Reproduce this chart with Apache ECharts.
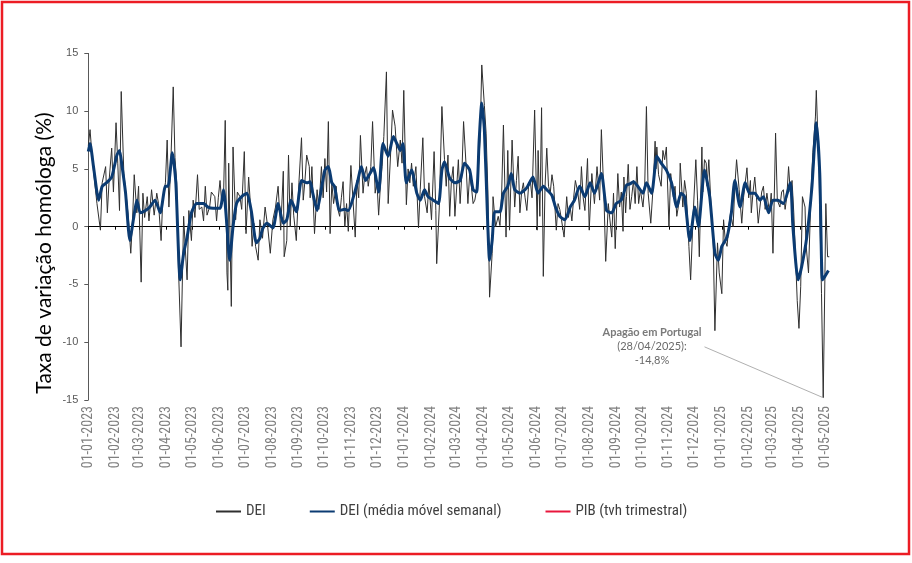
<!DOCTYPE html>
<html>
<head>
<meta charset="utf-8">
<script src="https://cdn.jsdelivr.net/npm/echarts@6/dist/echarts.min.js"></script>
<style>
html,body{margin:0;padding:0;background:#fff;}
#chart{width:912px;height:563px;}
</style>
</head>
<body>
<div id="chart"></div>
<script>
// ---- axis range (daily categories) ----
const firstDay = '2023-01-01';
const lastDay = '2025-05-05';
const yTicks = { min: -15, max: 15, step: 5 };

// ---- series names ----
const seriesNames = ['DEI', 'DEI (média móvel semanal)', 'PIB (tvh trimestral)'];

// ---- DEI (daily) ----
const dei = [
['2023-01-01',7.0],['2023-01-03',8.4],['2023-01-06',5.5],['2023-01-11',2.0],['2023-01-15',-0.3],['2023-01-17',3.8],['2023-01-21',5.2],['2023-01-23',1.2],['2023-01-25',4.0],['2023-01-28',6.8],['2023-01-30',3.0],
['2023-02-02',9.0],['2023-02-04',5.5],['2023-02-06',1.4],['2023-02-08',11.7],['2023-02-11',4.6],['2023-02-14',2.5],['2023-02-16',1.0],['2023-02-19',-2.3],['2023-02-21',0.5],['2023-02-23',4.5],['2023-02-26',1.2],['2023-02-28',3.5],
['2023-03-03',-4.8],['2023-03-05',2.9],['2023-03-07',0.8],['2023-03-10',2.6],['2023-03-12',0.5],['2023-03-15',3.2],['2023-03-18',1.0],['2023-03-21',2.9],['2023-03-23',2.0],['2023-03-26',-1.2],['2023-03-28',2.5],['2023-03-31',3.8],
['2023-04-02',7.5],['2023-04-04',1.7],['2023-04-06',5.0],['2023-04-09',12.1],['2023-04-11',6.0],['2023-04-13',3.8],['2023-04-15',-3.5],['2023-04-18',-10.4],['2023-04-21',0.9],['2023-04-23',-2.0],['2023-04-25',-4.6],['2023-04-27',1.4],['2023-04-30',-1.2],
['2023-05-02',2.3],['2023-05-04',0.8],['2023-05-07',4.5],['2023-05-09',1.5],['2023-05-12',1.7],['2023-05-14',0.5],['2023-05-16',3.5],['2023-05-18',1.0],['2023-05-21',1.7],['2023-05-23',3.0],['2023-05-27',2.6],['2023-05-29',0.5],['2023-05-31',2.5],
['2023-06-02',4.0],['2023-06-04',2.0],['2023-06-06',2.5],['2023-06-08',9.2],['2023-06-10',-4.0],['2023-06-11',-5.5],['2023-06-12',5.5],['2023-06-15',-6.9],['2023-06-17',6.9],['2023-06-20',0.6],['2023-06-22',3.0],['2023-06-25',2.6],['2023-06-27',1.5],['2023-06-30',6.5],
['2023-07-02',-0.6],['2023-07-05',4.3],['2023-07-07',2.0],['2023-07-09',-1.7],['2023-07-11',0.3],['2023-07-13',-1.7],['2023-07-16',-2.9],['2023-07-18',0.6],['2023-07-21',-1.0],['2023-07-24',1.7],['2023-07-27',0.0],['2023-07-30',-2.3],
['2023-08-02',0.6],['2023-08-05',1.7],['2023-08-08',3.5],['2023-08-11',-0.3],['2023-08-14',4.8],['2023-08-15',-2.6],['2023-08-18',-1.2],['2023-08-20',6.2],['2023-08-22',0.0],['2023-08-24',3.8],['2023-08-26',1.0],['2023-08-29',-1.2],
['2023-09-01',3.8],['2023-09-04',7.7],['2023-09-06',2.3],['2023-09-08',4.0],['2023-09-10',6.2],['2023-09-13',5.2],['2023-09-14',2.5],['2023-09-16',5.2],['2023-09-19',-0.6],['2023-09-22',3.2],['2023-09-24',1.5],['2023-09-27',5.2],['2023-09-29',2.5],
['2023-10-01',5.9],['2023-10-03',3.0],['2023-10-05',9.1],['2023-10-07',-0.6],['2023-10-09',3.8],['2023-10-11',2.0],['2023-10-14',3.5],['2023-10-16',1.5],['2023-10-18',0.9],['2023-10-20',2.5],['2023-10-22',3.9],['2023-10-24',0.0],['2023-10-26',2.0],['2023-10-28',-0.4],['2023-10-31',5.3],
['2023-11-02',5.2],['2023-11-05',-0.9],['2023-11-07',4.0],['2023-11-09',2.5],['2023-11-11',7.9],['2023-11-14',2.9],['2023-11-16',4.5],['2023-11-18',5.2],['2023-11-20',3.5],['2023-11-23',5.2],['2023-11-25',9.1],['2023-11-28',2.9],['2023-11-30',4.0],
['2023-12-02',1.0],['2023-12-04',3.5],['2023-12-06',5.2],['2023-12-08',7.8],['2023-12-11',13.4],['2023-12-13',2.0],['2023-12-16',6.6],['2023-12-18',10.1],['2023-12-21',8.7],['2023-12-24',5.2],['2023-12-27',7.5],['2023-12-29',5.5],['2023-12-31',11.8],
['2024-01-03',1.9],['2024-01-05',5.0],['2024-01-07',3.8],['2024-01-09',5.5],['2024-01-11',3.5],['2024-01-14',5.2],['2024-01-17',-0.1],['2024-01-19',3.2],['2024-01-22',7.7],['2024-01-24',2.6],['2024-01-27',1.2],['2024-01-29',3.8],
['2024-02-01',0.6],['2024-02-04',6.5],['2024-02-06',1.4],['2024-02-07',-3.2],['2024-02-10',1.7],['2024-02-13',10.4],['2024-02-16',5.8],['2024-02-18',3.5],['2024-02-20',6.2],['2024-02-22',0.9],['2024-02-24',4.0],['2024-02-26',5.2],['2024-02-28',0.9],
['2024-03-03',5.8],['2024-03-05',2.0],['2024-03-07',4.5],['2024-03-09',9.1],['2024-03-12',5.2],['2024-03-14',2.0],['2024-03-16',4.5],['2024-03-18',3.5],['2024-03-20',2.0],['2024-03-22',2.3],['2024-03-24',3.2],['2024-03-26',5.0],['2024-03-28',7.5],['2024-03-30',14.0],
['2024-04-02',10.5],['2024-04-04',8.1],['2024-04-06',3.2],['2024-04-08',-6.1],['2024-04-11',-2.3],['2024-04-12',2.6],['2024-04-15',0.0],['2024-04-18',0.9],['2024-04-20',0.1],['2024-04-22',3.0],['2024-04-24',8.8],['2024-04-27',-0.9],['2024-04-29',6.6],
['2024-05-01',-0.3],['2024-05-04',7.5],['2024-05-07',1.7],['2024-05-09',4.0],['2024-05-11',6.1],['2024-05-13',1.2],['2024-05-15',3.0],['2024-05-17',3.8],['2024-05-19',2.5],['2024-05-21',1.4],['2024-05-23',3.5],['2024-05-25',4.0],['2024-05-27',2.5],['2024-05-30',10.1],
['2024-06-02',-0.3],['2024-06-03',6.6],['2024-06-05',0.9],['2024-06-07',10.3],['2024-06-09',-4.3],['2024-06-11',3.5],['2024-06-13',6.8],['2024-06-15',3.5],['2024-06-17',2.9],['2024-06-19',4.5],['2024-06-21',3.5],['2024-06-24',-0.3],['2024-06-26',2.0],['2024-06-28',1.5],['2024-06-30',0.6],
['2024-07-03',-0.9],['2024-07-06',2.6],['2024-07-08',0.8],['2024-07-10',1.7],['2024-07-12',0.5],['2024-07-14',2.5],['2024-07-16',4.0],['2024-07-19',2.9],['2024-07-21',1.5],['2024-07-23',5.2],['2024-07-25',2.5],['2024-07-27',1.4],['2024-07-30',5.9],
['2024-08-01',-0.3],['2024-08-04',4.6],['2024-08-07',2.0],['2024-08-10',5.2],['2024-08-13',2.3],['2024-08-15',8.4],['2024-08-18',2.6],['2024-08-20',-3.0],['2024-08-23',2.0],['2024-08-25',0.5],['2024-08-27',-0.9],['2024-08-29',2.9],['2024-08-31',-1.9],
['2024-09-03',4.6],['2024-09-05',1.7],['2024-09-07',3.0],['2024-09-09',-0.4],['2024-09-10',4.3],['2024-09-12',1.2],['2024-09-13',2.6],['2024-09-15',5.4],['2024-09-17',1.5],['2024-09-19',2.6],['2024-09-21',4.0],['2024-09-23',2.0],['2024-09-25',5.2],['2024-09-27',2.0],['2024-09-29',3.2],
['2024-10-02',1.7],['2024-10-04',3.5],['2024-10-06',10.4],['2024-10-08',2.9],['2024-10-11',0.3],['2024-10-14',3.8],['2024-10-16',7.4],['2024-10-17',5.0],['2024-10-18',6.9],['2024-10-20',4.5],['2024-10-22',4.6],['2024-10-23',3.5],['2024-10-25',6.6],['2024-10-27',5.8],['2024-10-29',6.9],
['2024-11-01',0.0],['2024-11-03',4.6],['2024-11-06',2.6],['2024-11-08',3.5],['2024-11-10',0.9],['2024-11-13',2.3],['2024-11-14',5.5],['2024-11-17',1.7],['2024-11-19',4.0],['2024-11-21',2.9],['2024-11-24',-1.7],['2024-11-26',-4.6],['2024-11-29',1.2],
['2024-12-02',5.8],['2024-12-04',2.3],['2024-12-06',-2.6],['2024-12-09',6.9],['2024-12-10',3.0],['2024-12-12',5.8],['2024-12-14',5.5],['2024-12-15',3.5],['2024-12-17',5.8],['2024-12-19',2.6],['2024-12-22',-1.2],['2024-12-24',-9.0],['2024-12-27',-1.4],['2024-12-29',-4.0],
['2025-01-01',-5.8],['2025-01-03',0.6],['2025-01-05',-1.2],['2025-01-07',-1.7],['2025-01-09',0.0],['2025-01-11',1.2],['2025-01-14',0.0],['2025-01-16',3.5],['2025-01-18',5.8],['2025-01-21',3.2],['2025-01-24',0.3],['2025-01-26',2.5],['2025-01-28',3.8],['2025-01-30',5.1],
['2025-02-01',2.5],['2025-02-03',4.0],['2025-02-04',1.2],['2025-02-06',3.0],['2025-02-08',4.3],['2025-02-10',2.5],['2025-02-12',0.3],['2025-02-14',1.7],['2025-02-16',3.0],['2025-02-18',3.5],['2025-02-20',1.5],['2025-02-22',2.9],['2025-02-25',1.2],['2025-02-27',2.9],
['2025-03-01',-2.3],['2025-03-03',4.3],['2025-03-04',8.1],['2025-03-06',2.3],['2025-03-09',1.7],['2025-03-11',3.0],['2025-03-13',3.2],['2025-03-15',1.5],['2025-03-17',2.6],['2025-03-19',5.2],['2025-03-21',3.0],['2025-03-23',4.0],['2025-03-25',1.2],['2025-03-27',-2.6],['2025-03-29',-6.4],['2025-03-31',-8.8],
['2025-04-02',-5.2],['2025-04-04',2.6],['2025-04-07',1.7],['2025-04-08',-1.4],['2025-04-11',-4.0],['2025-04-14',3.2],['2025-04-16',6.4],['2025-04-19',9.5],['2025-04-20',11.8],['2025-04-23',5.2],['2025-04-26',-5.8],['2025-04-28',-14.8],['2025-04-30',-4.0],
['2025-05-01',2.0],['2025-05-03',-2.6],['2025-05-05',-2.6]
];

// ---- DEI 7-day moving average ----
const deiMA = [
['2023-01-01',6.5],['2023-01-03',7.2],['2023-01-07',5.2],['2023-01-13',2.3],['2023-01-17',3.5],['2023-01-22',3.8],['2023-01-28',4.3],['2023-02-03',6.2],['2023-02-06',6.6],['2023-02-09',5.2],['2023-02-13',2.9],['2023-02-18',-1.2],['2023-02-22',0.6],['2023-02-26',2.3],
['2023-03-02',1.2],['2023-03-08',1.4],['2023-03-13',1.7],['2023-03-19',2.3],['2023-03-25',1.2],['2023-03-31',3.5],['2023-04-03',3.5],['2023-04-08',6.4],['2023-04-12',3.8],['2023-04-17',-4.6],['2023-04-21',-2.3],['2023-04-25',-0.9],['2023-04-30',1.2],
['2023-05-06',2.0],['2023-05-14',2.0],['2023-05-19',1.7],['2023-05-25',1.6],['2023-06-02',1.6],['2023-06-06',3.2],['2023-06-10',0.0],['2023-06-13',-2.9],['2023-06-17',0.0],['2023-06-21',2.0],['2023-06-27',2.6],
['2023-07-03',2.9],['2023-07-08',1.4],['2023-07-14',-1.4],['2023-07-18',-1.0],['2023-07-21',-0.2],['2023-07-26',0.3],['2023-08-02',-0.1],['2023-08-08',2.0],['2023-08-14',0.3],['2023-08-18',0.6],['2023-08-23',2.3],['2023-08-29',1.3],
['2023-09-04',4.0],['2023-09-10',3.8],['2023-09-14',3.9],['2023-09-17',2.9],['2023-09-22',1.4],['2023-09-27',3.3],['2023-10-01',4.9],['2023-10-05',5.2],['2023-10-09',3.8],['2023-10-12',3.5],['2023-10-18',1.4],['2023-10-24',1.5],['2023-10-28',1.4],
['2023-11-03',2.6],['2023-11-08',4.0],['2023-11-12',5.2],['2023-11-17',4.0],['2023-11-22',4.6],['2023-11-26',5.1],['2023-12-02',3.0],['2023-12-07',7.2],['2023-12-13',6.1],['2023-12-19',7.8],['2023-12-23',7.2],['2023-12-27',6.6],['2023-12-30',7.2],
['2024-01-03',3.8],['2024-01-09',4.9],['2024-01-15',2.9],['2024-01-19',2.3],['2024-01-24',3.2],['2024-01-28',2.6],['2024-02-03',2.3],['2024-02-09',2.0],['2024-02-13',4.9],['2024-02-16',5.6],['2024-02-22',4.2],['2024-02-28',3.8],
['2024-03-05',4.0],['2024-03-10',5.5],['2024-03-16',4.9],['2024-03-20',3.2],['2024-03-24',3.0],['2024-03-27',7.5],['2024-03-30',10.7],['2024-04-02',8.4],['2024-04-06',0.0],['2024-04-08',-2.9],['2024-04-11',-1.2],['2024-04-14',1.3],['2024-04-20',1.3],['2024-04-24',2.9],['2024-04-29',3.5],
['2024-05-03',4.6],['2024-05-07',3.2],['2024-05-13',2.9],['2024-05-19',3.2],['2024-05-22',3.5],['2024-05-28',4.3],['2024-06-03',2.9],['2024-06-09',3.5],['2024-06-13',3.2],['2024-06-19',2.7],['2024-06-23',1.7],['2024-06-28',0.9],
['2024-07-04',0.6],['2024-07-10',1.7],['2024-07-15',2.3],['2024-07-21',3.5],['2024-07-27',2.6],['2024-08-02',3.8],['2024-08-07',2.9],['2024-08-15',4.6],['2024-08-21',1.4],['2024-08-27',1.2],
['2024-09-01',2.0],['2024-09-07',2.3],['2024-09-13',3.6],['2024-09-17',3.7],['2024-09-21',3.9],['2024-09-26',3.5],['2024-10-02',2.9],['2024-10-06',3.8],['2024-10-12',2.9],['2024-10-18',6.1],['2024-10-23',5.5],['2024-10-29',4.9],
['2024-11-04',3.8],['2024-11-10',1.7],['2024-11-15',2.9],['2024-11-19',2.6],['2024-11-25',-1.2],['2024-12-01',1.7],['2024-12-05',0.0],['2024-12-12',4.9],['2024-12-18',2.6],['2024-12-24',-2.3],['2024-12-28',-2.9],
['2025-01-01',-1.7],['2025-01-07',-0.9],['2025-01-12',1.2],['2025-01-16',4.0],['2025-01-22',1.7],['2025-01-28',3.8],['2025-02-02',2.9],['2025-02-08',2.9],['2025-02-14',2.3],['2025-02-18',2.6],['2025-02-24',1.2],
['2025-03-01',2.3],['2025-03-07',2.3],['2025-03-13',2.0],['2025-03-21',3.8],['2025-03-24',0.0],['2025-03-30',-4.6],['2025-04-03',-3.5],['2025-04-09',-0.9],['2025-04-15',3.5],['2025-04-20',9.0],['2025-04-24',4.6],['2025-04-27',-4.6],['2025-04-30',-4.3],['2025-05-04',-3.8]
];

// ---- PIB (no points visible in the chart, only in the legend) ----
const pib = [];

// ---- annotation ----
const noteTitle = 'Apagão em Portugal';
const noteLines = ['(28/04/2025):', '-14,8%'];
const noteFrom = ['2024-12-12', -10.4];
const noteTo = ['2025-04-28', -14.8];

// ---- build daily categories ----
const days = [];
for (let t = Date.parse(firstDay + 'T00:00:00Z'); t <= Date.parse(lastDay + 'T00:00:00Z'); t += 86400000) {
  days.push(new Date(t).toISOString().slice(0, 10));
}
const isMonthStart = (i, v) => v.slice(8, 10) === '01';
const fmtDay = v => v.slice(8, 10) + '-' + v.slice(5, 7) + '-' + v.slice(0, 4);

const NARROW = "'Liberation Sans Narrow', 'Arial Narrow', 'Roboto Condensed', sans-serif";

const chart = echarts.init(document.getElementById('chart'), null, { renderer: 'canvas' });
chart.setOption({
  backgroundColor: '#ffffff',
  animation: false,
  grid: { left: 88.3, right: 82.7, top: 53.4, bottom: 163 },
  legend: {
    left: 210, top: 499,
    itemWidth: 25, itemHeight: 12, itemGap: 43,
    itemStyle: { opacity: 0 },
    textStyle: { fontFamily: NARROW, fontSize: 15, color: '#404040' },
    data: seriesNames
  },
  xAxis: [
    {
      type: 'category', data: days, boundaryGap: false, position: 'bottom',
      axisLine: { show: false, onZero: false },
      axisTick: { show: false },
      axisLabel: {
        interval: isMonthStart, rotate: 90, formatter: fmtDay, margin: 6,
        fontFamily: NARROW, fontSize: 14, color: '#808080'
      },
      splitLine: { show: false }
    },
    {
      type: 'category', data: days, boundaryGap: false, position: 'bottom',
      axisLine: { show: true, onZero: true, onZeroAxisIndex: 0, lineStyle: { color: '#000', width: 1 } },
      axisTick: { show: true, interval: isMonthStart, length: 3, lineStyle: { color: '#000' } },
      axisLabel: { show: false },
      splitLine: { show: false }
    }
  ],
  yAxis: {
    type: 'value', min: yTicks.min, max: yTicks.max, interval: yTicks.step,
    axisLine: { show: true, lineStyle: { color: '#595959', width: 1 } },
    axisTick: { show: true, length: 4, lineStyle: { color: '#595959' } },
    axisLabel: { margin: 10, fontFamily: "'Liberation Sans', Arial, sans-serif", fontSize: 11, color: '#595959' },
    splitLine: { show: false }
  },
  series: [
    {
      name: seriesNames[0], type: 'line', data: dei, xAxisIndex: 0,
      symbol: 'none', lineStyle: { color: '#2f2f2f', width: 1 }, itemStyle: { color: '#2f2f2f' },
      z: 2,
      markLine: {
        silent: true, symbol: 'none', animation: false,
        label: { show: false },
        lineStyle: { color: '#b0b0b0', width: 1, type: 'solid' },
        data: [[{ coord: noteFrom }, { coord: noteTo }]]
      },
      markPoint: {
        silent: true, symbol: 'circle', symbolSize: 0,
        data: [{ coord: noteFrom }],
        label: {
          show: true, position: 'left', distance: 3,
          formatter: '{b|' + noteTitle + '}\n' + noteLines.map(s => '{n|' + s + '}').join('\n'),
          rich: {
            b: { fontFamily: 'Lato, sans-serif', fontWeight: 'bold', fontSize: 11, color: '#7a7a7a', align: 'center', lineHeight: 14 },
            n: { fontFamily: 'Lato, sans-serif', fontSize: 11, color: '#6a6a6a', align: 'center', lineHeight: 14 }
          }
        }
      }
    },
    {
      name: seriesNames[1], type: 'line', data: deiMA, xAxisIndex: 0,
      symbol: 'none', smooth: 0.2, lineStyle: { color: '#0b3b72', width: 3 }, itemStyle: { color: '#0b3b72' },
      z: 3
    },
    {
      name: seriesNames[2], type: 'line', data: pib, xAxisIndex: 0,
      symbol: 'none', lineStyle: { color: '#e8173c', width: 3 }, itemStyle: { color: '#e8173c' }
    }
  ],
  graphic: [
    {
      type: 'text', x: 44, y: 253, rotation: Math.PI / 2,
      style: {
        text: 'Taxa de variação homóloga (%)', fill: '#000',
        font: '21px Lato, sans-serif', textAlign: 'center', textVerticalAlign: 'middle'
      }
    },
    {
      type: 'rect', silent: true,
      shape: { x: 2, y: 2, width: 907, height: 552 },
      style: { fill: 'none', stroke: '#ec1c24', lineWidth: 2.5 }
    }
  ]
});
</script>
</body>
</html>
